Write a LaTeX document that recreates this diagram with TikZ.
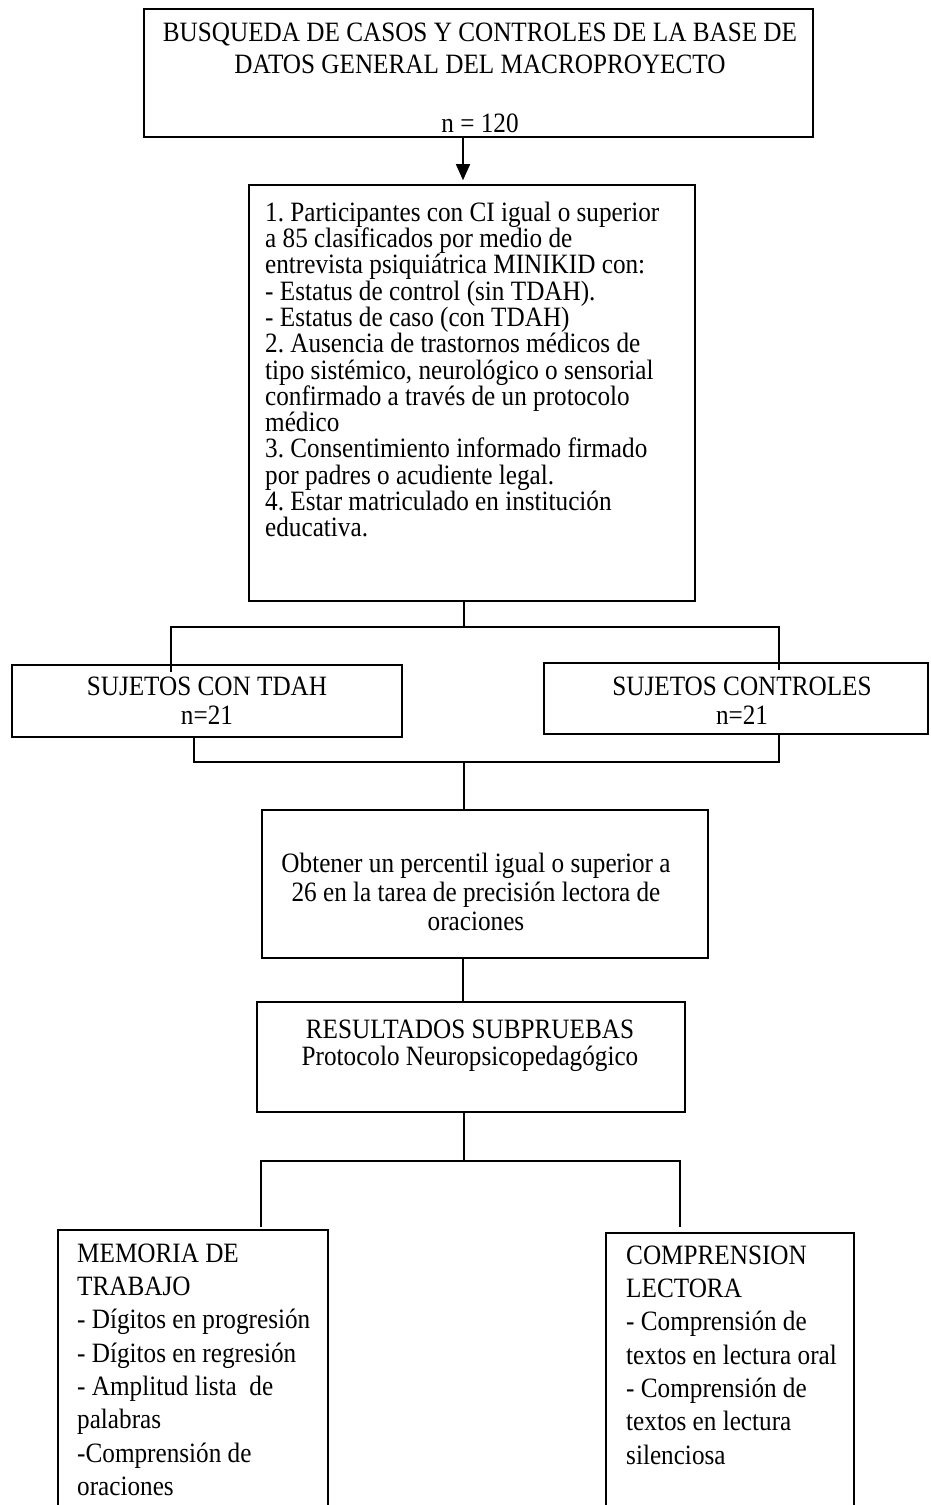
\documentclass[tikz,border=0pt]{standalone}
\usepackage{fontspec}
\setmainfont{Liberation Serif}[FakeStretch=0.9]
\usetikzlibrary{arrows.meta}
\newcommand{\fst}{\rule{0pt}{20pt}}
\tikzset{
  boxn/.style={draw, line width=1.6pt, rectangle, inner sep=0pt},
  conn/.style={line width=1.5pt},
  arr/.style={line width=1.5pt, -{Triangle[width=14pt,length=16pt]}, shorten >=4pt},
  txt/.style={inner sep=0pt, align=#1},
  txt/.default=center
}
\begin{document}
\frenchspacing
\begin{tikzpicture}[x=1pt,y=-1pt]
\useasboundingbox (0,0) rectangle (930,1505);
\clip (0,0) rectangle (930,1505);
% boxes
\node[boxn, minimum width=669pt, minimum height=128pt] (b1) at (478.5,73) {};
\node[boxn, minimum width=446pt, minimum height=416pt] (b2) at (472,393) {};
\node[boxn, minimum width=390pt, minimum height=72pt] (b3) at (207,701) {};
\node[boxn, minimum width=384pt, minimum height=71pt] (b4) at (736,698.5) {};
\node[boxn, minimum width=446pt, minimum height=148pt] (b5) at (485,884) {};
\node[boxn, minimum width=428pt, minimum height=110pt] (b6) at (471,1057) {};
\node[boxn, minimum width=270pt, minimum height=290pt] (b7) at (193,1375) {};
\node[boxn, minimum width=248pt, minimum height=287pt] (b8) at (730,1376.5) {};
% texts
\node[txt, anchor=north, font=\fontsize{28}{32}\selectfont] (t1) at (480,21)
  {\fst BUSQUEDA DE CASOS Y CONTROLES DE LA BASE DE\\ DATOS GENERAL DEL MACROPROYECTO\\[27pt] n = 120};
\node[txt=left, anchor=north west, font=\fontsize{28}{26.3}\selectfont] (t2) at (265,201)
  {\fst 1. Participantes con CI igual o superior\\
   a 85 clasificados por medio de\\
   entrevista psiquiátrica MINIKID con:\\
   - Estatus de control (sin TDAH).\\
   - Estatus de caso (con TDAH)\\
   2. Ausencia de trastornos médicos de\\
   tipo sistémico, neurológico o sensorial\\
   confirmado a través de un protocolo\\
   médico\\
   3. Consentimiento informado firmado\\
   por padres o acudiente legal.\\
   4. Estar matriculado en institución\\
   educativa.};
\node[txt, anchor=north, font=\fontsize{28}{29}\selectfont] (t3) at (207,675)
  {\fst SUJETOS CON TDAH\\ n=21};
\node[txt, anchor=north, font=\fontsize{28}{29}\selectfont] (t4) at (742,675)
  {\fst SUJETOS CONTROLES\\ n=21};
\node[txt, anchor=north, font=\fontsize{28}{29}\selectfont] (t5) at (476,852)
  {\fst Obtener un percentil igual o superior a\\ 26 en la tarea de precisión lectora de\\ oraciones};
\node[txt, anchor=north, font=\fontsize{28}{27}\selectfont] (t6) at (470,1018)
  {\fst RESULTADOS SUBPRUEBAS\\ Protocolo Neuropsicopedagógico};
\node[txt=left, anchor=north west, font=\fontsize{28}{33.3}\selectfont] (t7) at (77,1242)
  {\fst MEMORIA DE\\ TRABAJO\\ - Dígitos en progresión\\ - Dígitos en regresión\\
   - Amplitud lista\ \ de\\ palabras\\ -Comprensión de\\ oraciones};
\node[txt=left, anchor=north west, font=\fontsize{28}{33.3}\selectfont] (t8) at (626,1244)
  {\fst COMPRENSION\\ LECTORA\\ - Comprensión de\\ textos en lectura oral\\
   - Comprensión de\\ textos en lectura\\ silenciosa};
% connector coordinates
\coordinate (ax) at (463,0);
\coordinate (j1) at (464,627);
\coordinate (l1) at (171,627);
\coordinate (r1) at (779,627);
\coordinate (l1e) at (171,672);
\coordinate (r1e) at (779,670);
\coordinate (l2) at (194,762);
\coordinate (r2) at (779,762);
\coordinate (j2) at (464,762);
\coordinate (j3) at (464,1161);
\coordinate (l3) at (261,1161);
\coordinate (r3) at (680,1161);
\coordinate (l3e) at (261,1227);
\coordinate (r3e) at (680,1227);
% connectors
\draw[arr] (b1.south -| ax) -- (b2.north -| ax);
\draw[conn] (b2.south -| j1) -- (j1);
\draw[conn] (l1e) -- (l1) -- (r1) -- (r1e);
\draw[conn] (b3.south -| l2) -- (l2) -- (r2) -- (b4.south -| r2);
\draw[conn] (j2) -- (b5.north -| j2);
\draw[conn] (b5.south -| ax) -- (b6.north -| ax);
\draw[conn] (b6.south -| j3) -- (j3);
\draw[conn] (l3e) -- (l3) -- (r3) -- (r3e);
\end{tikzpicture}
\end{document}
